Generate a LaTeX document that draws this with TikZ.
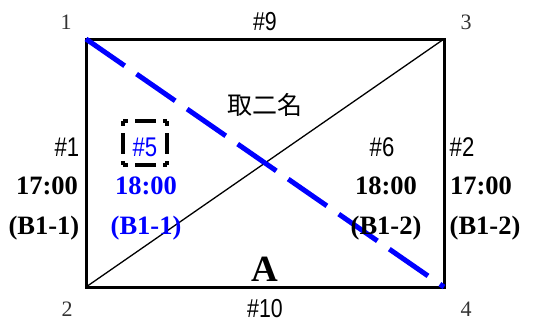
\documentclass[tikz,border=0pt]{standalone}
\usepackage{fontspec}
\setmainfont{Liberation Serif}
\newfontfamily\narrowfont[FakeStretch=0.82]{Liberation Sans}
\newfontfamily\cjkfont{Noto Sans CJK TC}
\definecolor{pureblue}{RGB}{0,0,255}
\begin{document}
\begin{tikzpicture}[x=1pt,y=-1pt,
  corner/.style={font=\fontsize{22}{22}\selectfont, text=black!80},
  hashlbl/.style={font=\narrowfont\fontsize{27}{27}\selectfont},
  timelbl/.style={font=\bfseries\fontsize{26.5}{26.5}\selectfont},
  bluetxt/.style={text=pureblue},
  boxside/.style={line width=4pt, dash pattern=on 5pt off 7pt on 21pt off 7pt on 5pt off 100pt},
]
\useasboundingbox (0,0) rectangle (557,322);
% corners of field
\coordinate (c1) at (86,39);
\coordinate (c3) at (444,39);
\coordinate (c2) at (86,287);
\coordinate (c4) at (444,287);
\draw[line width=1.3pt] (c2) -- (c3);
\draw[line width=3pt] (c1) -- (c3) -- (c4) -- (c2) -- cycle;
\draw[pureblue, line width=5pt, dash pattern=on 47pt off 14.5pt] (c1) -- (c4);
% corner numbers
\node[corner] (n1) at (66,22) {1};
\node[corner] (n3) at (466,22) {3};
\node[corner] (n2) at (67,309) {2};
\node[corner] (n4) at (466,309) {4};
\node[hashlbl, font=\narrowfont\fontsize{26}{26}\selectfont] (h9) at (265,22) {\#9};
\node[hashlbl, inner sep=0pt, font=\narrowfont\fontsize{26}{26}\selectfont] (h10) at (265,309) {\#10};
% left
\node[hashlbl] (h1) at (67,147) {\#1};
\node[timelbl] (t1) at (47,186) {17:00};
\node[timelbl] (b1) at (44,228) {(B1-1)};
% #5
\node[hashlbl, bluetxt] (h5) at (145,147) {\#5};
\coordinate (bA) at (123,121);
\coordinate (bB) at (167,121);
\coordinate (bC) at (167,165);
\coordinate (bD) at (123,165);
\draw[boxside] (bA) -- (bB);
\draw[boxside] (bA) -- (bD);
\draw[boxside] (bB) -- (bC);
\draw[boxside] (bD) -- (bC);
\node[timelbl, bluetxt] (t5) at (146,186) {18:00};
\node[timelbl, bluetxt] (b5) at (146,228) {(B1-1)};
% center
\node[font=\cjkfont\fontsize{25}{25}\selectfont] (q) at (265,105) {取二名};
\node[font=\bfseries\fontsize{37}{37}\selectfont] (a) at (265,269) {A};
% #6
\node[hashlbl] (h6) at (382,147) {\#6};
\node[timelbl] (t6) at (386,186) {18:00};
\node[timelbl] (b6) at (386,228) {(B1-2)};
% #2
\node[hashlbl] (h2) at (462,147) {\#2};
\node[timelbl] (t2) at (481,186) {17:00};
\node[timelbl] (b2) at (485,228) {(B1-2)};
\end{tikzpicture}
\end{document}
